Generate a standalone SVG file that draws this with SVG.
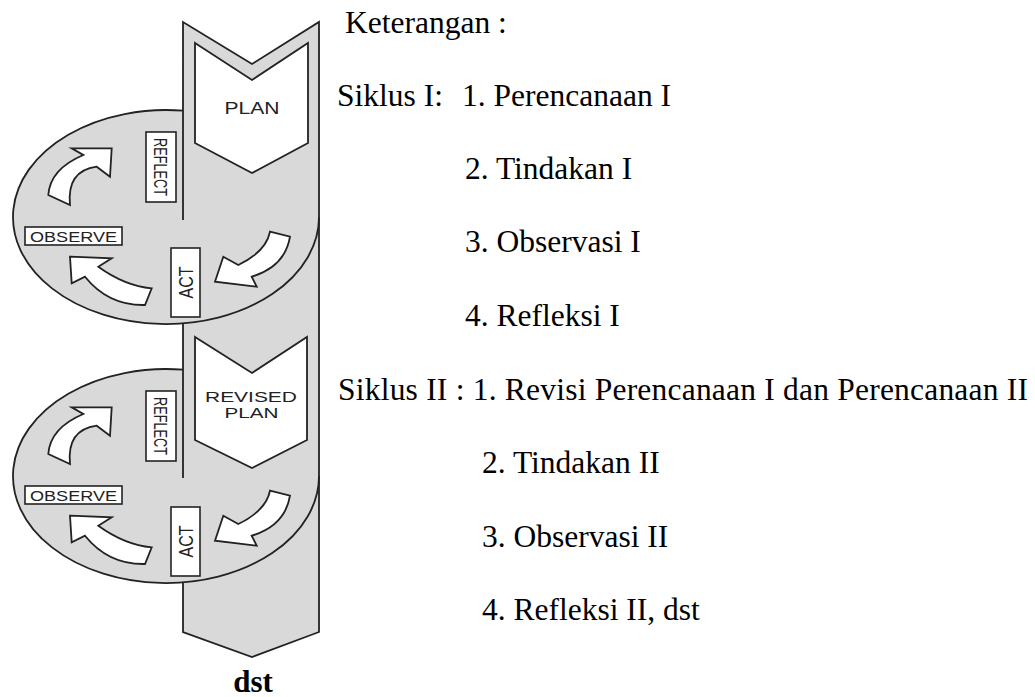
<svg xmlns="http://www.w3.org/2000/svg" width="1035" height="697" viewBox="0 0 1035 697">
  <style>
    .fill { fill: #d9d9d9; stroke: none; }
    .edge { fill: none; stroke: #222; stroke-width: 1.8; stroke-linejoin: miter; }
    .chev { fill: #fff; stroke: #222; stroke-width: 1.8; }
    .box { fill: #fff; stroke: #222; stroke-width: 1.6; }
    .arrow { fill: #fff; stroke: #222; stroke-width: 1.8; stroke-linejoin: miter; }
    .lbl { font-family: "Liberation Sans", Arial, sans-serif; fill: #222; text-anchor: middle; }
    .note { font-family: "Liberation Serif", "Times New Roman", serif; font-size: 31.5px; fill: #000; }
  </style>

  <!-- shared shapes of one action-research cycle -->
  <defs>
    <g id="cycle-body">
      <rect class="box" x="146" y="132" width="30" height="70"/>
      <text class="lbl" font-size="19" transform="translate(161,167) rotate(90)" y="7" textLength="58" lengthAdjust="spacingAndGlyphs">REFLECT</text>
      <rect class="box" x="171" y="248" width="29" height="69"/>
      <text class="lbl" font-size="20" transform="translate(185.5,282.5) rotate(-90)" y="7" textLength="32" lengthAdjust="spacingAndGlyphs">ACT</text>
      <rect class="box" x="25" y="227" width="97" height="18"/>
      <text class="lbl" font-size="15" x="73.5" y="241.5" textLength="87" lengthAdjust="spacingAndGlyphs">OBSERVE</text>
      <!-- observe -> reflect -->
      <path class="arrow" d="M48.3,195 Q50.2,169 83.3,155 L71.7,148.3 L111.7,148.3 L110,176.7 L96.7,166.7 Q66.6,170.8 70,205 Z"/>
      <!-- act -> observe -->
      <path class="arrow" d="M70,256.7 L111.7,258.3 L98.3,266.7 Q125,285.9 151.7,288.3 L145,305 Q108.4,305.8 85,276.7 L71.7,283.3 Z"/>
      <!-- plan -> act -->
      <path class="arrow" d="M270,231.7 L290,236.7 Q285,266.7 251.7,276.7 L256.7,286.7 L215,281.7 L223.3,256.7 L238.3,265 Q265.9,251.7 270,231.7 Z"/>
    </g>
  </defs>

  <!-- gray band and the two cycle discs -->
  <g id="band">
    <polygon class="fill" points="183,22 252,64 319,22 319,632 252,657 183,632"/>
    <ellipse class="fill" cx="166" cy="217" rx="153" ry="107"/>
    <ellipse class="fill" cx="166" cy="476" rx="153" ry="107"/>
    <path class="edge" d="M183,220 L183,22 L252,64 L319,22 L319,632 L252,657 L183,632 L183,582.3"/>
    <path class="edge" d="M183,323.3 L183,478"/>
    <path class="edge" d="M319,217 A153,107 0 1 1 183,110.7"/>
    <path class="edge" d="M319,476 A153,107 0 1 1 183,369.7"/>
  </g>

  <g id="plan">
    <polygon class="chev" points="195,43 252,80 308,43 308,143 252,173 195,143"/>
    <text class="lbl" font-size="16" x="252" y="113.5" textLength="55" lengthAdjust="spacingAndGlyphs">PLAN</text>
  </g>

  <g id="revised-plan">
    <polygon class="chev" points="195,337 252,373 307,337 307,440 252,468 195,440"/>
    <text class="lbl" font-size="15.5" x="251" y="401.5" textLength="92" lengthAdjust="spacingAndGlyphs">REVISED</text>
    <text class="lbl" font-size="15.5" x="251.5" y="417.5" textLength="54" lengthAdjust="spacingAndGlyphs">PLAN</text>
  </g>

  <g id="cycle-1">
    <use href="#cycle-body"/>
  </g>
  <g id="cycle-2">
    <use href="#cycle-body" transform="translate(0,259)"/>
  </g>

  <g id="connectors"/>

  <g id="dst">
    <text x="253" y="692" font-family="'Liberation Serif', 'Times New Roman', serif" font-weight="bold" font-size="31" text-anchor="middle">dst</text>
  </g>

  <g id="legend">
    <text class="note" x="345" y="33">Keterangan :</text>
    <text class="note" x="337" y="106">Siklus I:<tspan x="462">1. Perencanaan I</tspan></text>
    <text class="note" x="465" y="179">2. Tindakan I</text>
    <text class="note" x="465" y="252">3. Observasi I</text>
    <text class="note" x="465" y="326">4. Refleksi I</text>
    <text class="note" x="338" y="400" textLength="690" lengthAdjust="spacing">Siklus II : 1. Revisi Perencanaan I dan Perencanaan II</text>
    <text class="note" x="482" y="473">2. Tindakan II</text>
    <text class="note" x="482" y="547">3. Observasi II</text>
    <text class="note" x="482" y="620">4. Refleksi II, dst</text>
  </g>
</svg>
